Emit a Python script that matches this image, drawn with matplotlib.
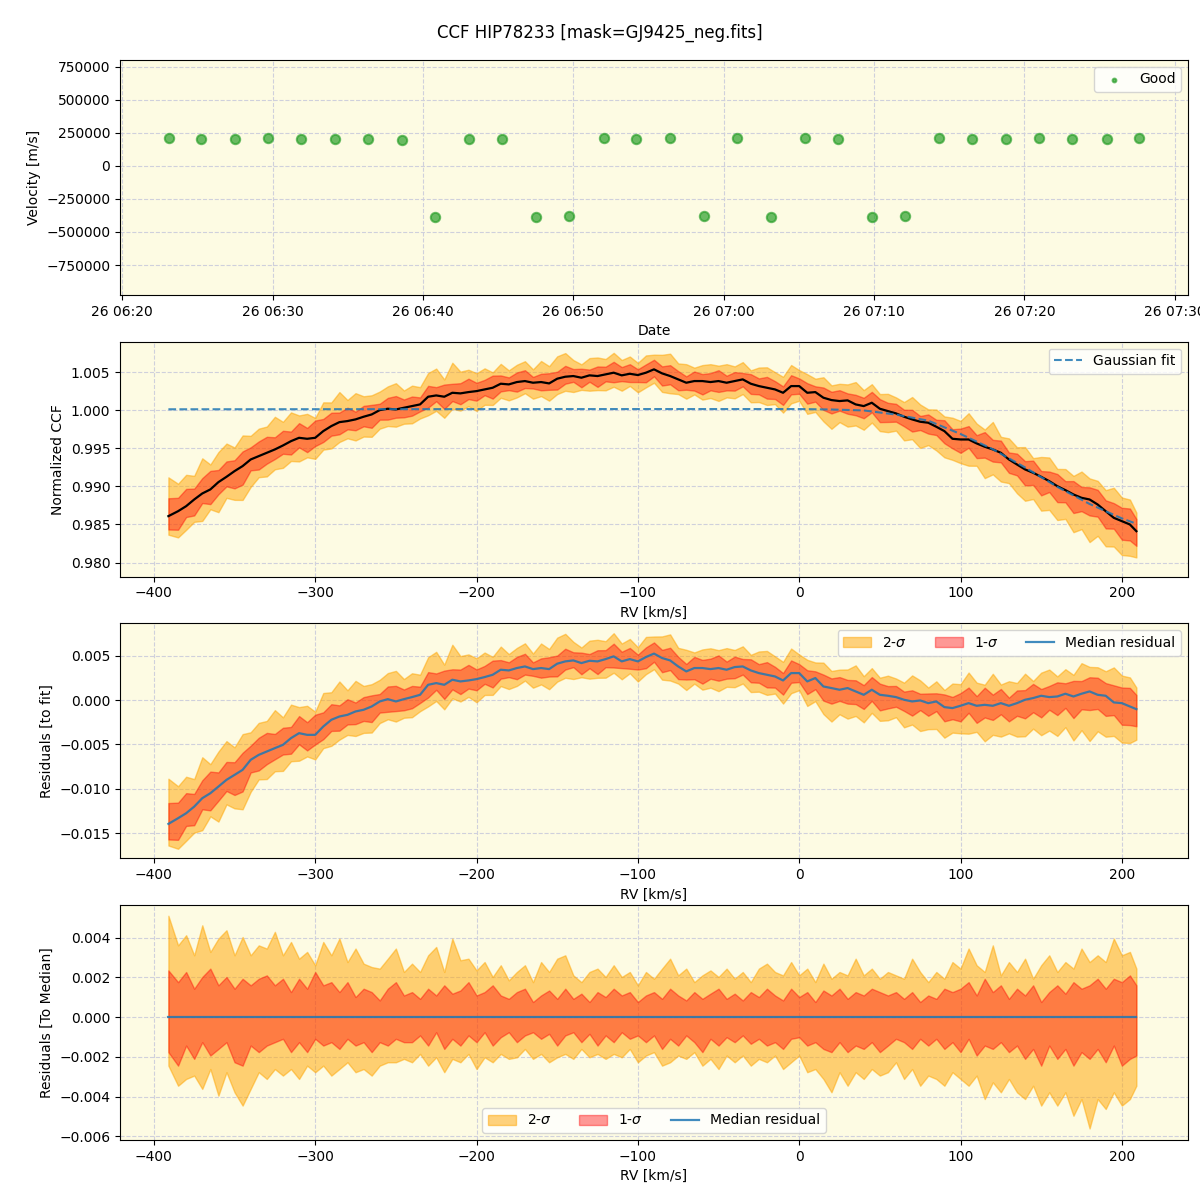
import matplotlib
matplotlib.use("Agg")
import matplotlib.pyplot as plt
import matplotlib.dates as mdates
import numpy as np
import pandas as pd

# ---- top panel: CCF velocity per exposure ----
obs_times = ["06:23:05", "06:25:16", "06:27:32", "06:29:43", "06:31:54", "06:34:10",
             "06:36:21", "06:38:37", "06:40:48", "06:43:04", "06:45:16", "06:47:31",
             "06:49:42", "06:52:01", "06:54:11", "06:56:27", "06:58:40", "07:00:55",
             "07:03:08", "07:05:25", "07:07:36", "07:09:52", "07:12:04", "07:14:20",
             "07:16:32", "07:18:48", "07:20:59", "07:23:11", "07:25:28", "07:27:39"]
obs_vel = [212000, 204000, 204000, 212000, 204000, 204000, 204000, 197000, -386000, 204000,
           204000, -386000, -379000, 212000, 204000, 212000, -379000, 212000, -386000, 212000,
           204000, -386000, -379000, 212000, 204000, 204000, 212000, 204000, 204000, 212000]

# ---- RV grid of the CCF ----
rv = [-391] + list(range(-385, 206, 5)) + [209]

ccf_mean = [0.98610, 0.98675, 0.98741, 0.98829, 0.98908, 0.98961, 0.99057, 0.99127, 0.99202, 0.99268,
            0.99355, 0.99399, 0.99443, 0.99487, 0.99539, 0.99596, 0.99640, 0.99627, 0.99640, 0.99728,
            0.99794, 0.99846, 0.99860, 0.99882, 0.99917, 0.99947, 1.00004, 1.00022, 1.00013, 1.00035,
            1.00057, 1.00079, 1.00180, 1.00197, 1.00180, 1.00232, 1.00224, 1.00241, 1.00254, 1.00276,
            1.00298, 1.00351, 1.00342, 1.00373, 1.00386, 1.00364, 1.00373, 1.00355, 1.00417, 1.00443,
            1.00452, 1.00430, 1.00461, 1.00452, 1.00474, 1.00496, 1.00461, 1.00482, 1.00465, 1.00496,
            1.00540, 1.00487, 1.00452, 1.00408, 1.00364, 1.00386, 1.00386, 1.00373, 1.00386, 1.00364,
            1.00386, 1.00408, 1.00351, 1.00320, 1.00298, 1.00276, 1.00232, 1.00320, 1.00320, 1.00232,
            1.00241, 1.00167, 1.00136, 1.00123, 1.00132, 1.00079, 1.00057, 1.00101, 1.00022, 0.99991,
            0.99961, 0.99917, 0.99882, 0.99851, 0.99838, 0.99785, 0.99728, 0.99627, 0.99618, 0.99618,
            0.99566, 0.99522, 0.99487, 0.99443, 0.99355, 0.99289, 0.99224, 0.99180, 0.99127, 0.99070,
            0.99004, 0.98952, 0.98895, 0.98851, 0.98829, 0.98763, 0.98675, 0.98588, 0.98544, 0.98500,
            0.98412]

resid_median = [-0.01397, -0.01333, -0.01277, -0.01202, -0.01107, -0.01051, -0.00976, -0.00900, -0.00844, -0.00787,
                -0.00674, -0.00618, -0.00580, -0.00542, -0.00505, -0.00429, -0.00373, -0.00392, -0.00392, -0.00298,
                -0.00222, -0.00185, -0.00166, -0.00128, -0.00109, -0.00072, -0.00015, 0.00011, -0.00015, 0.00011,
                0.00034, 0.00060, 0.00173, 0.00192, 0.00173, 0.00230, 0.00211, 0.00222, 0.00237, 0.00260,
                0.00286, 0.00343, 0.00335, 0.00362, 0.00380, 0.00350, 0.00362, 0.00350, 0.00411, 0.00437,
                0.00448, 0.00418, 0.00444, 0.00437, 0.00463, 0.00494, 0.00437, 0.00463, 0.00437, 0.00486,
                0.00525, 0.00475, 0.00448, 0.00380, 0.00324, 0.00362, 0.00362, 0.00350, 0.00362, 0.00343,
                0.00373, 0.00380, 0.00335, 0.00305, 0.00286, 0.00267, 0.00222, 0.00305, 0.00305, 0.00211,
                0.00249, 0.00154, 0.00136, 0.00117, 0.00136, 0.00098, 0.00060, 0.00117, 0.00060, 0.00049,
                0.00034, 0.00004, -0.00015, -0.00004, -0.00034, -0.00015, -0.00079, -0.00090, -0.00064, -0.00034,
                -0.00064, -0.00053, -0.00064, -0.00034, -0.00064, -0.00034, 0.00004, 0.00023, 0.00049, 0.00034,
                0.00041, 0.00072, 0.00041, 0.00072, 0.00098, 0.00060, 0.00049, -0.00026, -0.00034, -0.00072,
                -0.00102]

# band edges relative to the median
up2 = [0.00510, 0.00361, 0.00412, 0.00311, 0.00462, 0.00328, 0.00395, 0.00437, 0.00311, 0.00403,
       0.00311, 0.00361, 0.00345, 0.00429, 0.00311, 0.00378, 0.00294, 0.00328, 0.00261, 0.00378,
       0.00311, 0.00395, 0.00277, 0.00345, 0.00269, 0.00252, 0.00244, 0.00294, 0.00345, 0.00227,
       0.00269, 0.00227, 0.00311, 0.00353, 0.00227, 0.00395, 0.00286, 0.00294, 0.00235, 0.00277,
       0.00202, 0.00261, 0.00185, 0.00227, 0.00261, 0.00176, 0.00277, 0.00227, 0.00294, 0.00311,
       0.00210, 0.00176, 0.00227, 0.00244, 0.00202, 0.00261, 0.00202, 0.00227, 0.00160,
       0.00227, 0.00193, 0.00244, 0.00294, 0.00210, 0.00244, 0.00176, 0.00210, 0.00235, 0.00202,
       0.00244, 0.00193, 0.00227, 0.00176, 0.00244, 0.00269, 0.00227, 0.00210, 0.00277, 0.00210,
       0.00244, 0.00176, 0.00269, 0.00193, 0.00227, 0.00210, 0.00294, 0.00210, 0.00244, 0.00193,
       0.00227, 0.00210, 0.00193, 0.00294, 0.00227, 0.00176, 0.00227, 0.00193, 0.00277, 0.00244,
       0.00345, 0.00261, 0.00227, 0.00361, 0.00210, 0.00277, 0.00227, 0.00294, 0.00193, 0.00261,
       0.00311, 0.00227, 0.00277, 0.00244, 0.00345, 0.00277, 0.00311, 0.00277, 0.00395, 0.00311,
       0.00328, 0.00244]
up1 = [0.00235, 0.00176, 0.00227, 0.00143, 0.00202, 0.00244, 0.00160, 0.00202, 0.00143, 0.00193,
       0.00160, 0.00193, 0.00210, 0.00160, 0.00193, 0.00126, 0.00193, 0.00143, 0.00227, 0.00160,
       0.00176, 0.00126, 0.00176, 0.00101, 0.00143, 0.00126, 0.00084, 0.00143, 0.00176, 0.00109,
       0.00126, 0.00092, 0.00143, 0.00109, 0.00160, 0.00118, 0.00134, 0.00176, 0.00109, 0.00126,
       0.00160, 0.00109, 0.00092, 0.00126, 0.00143, 0.00076, 0.00109, 0.00134, 0.00092, 0.00143,
       0.00092, 0.00118, 0.00076, 0.00126, 0.00101, 0.00143, 0.00109, 0.00126, 0.00076,
       0.00109, 0.00126, 0.00092, 0.00143, 0.00109, 0.00084, 0.00126, 0.00092, 0.00118, 0.00143,
       0.00092, 0.00118, 0.00084, 0.00126, 0.00101, 0.00143, 0.00109, 0.00084, 0.00143, 0.00101,
       0.00126, 0.00076, 0.00134, 0.00109, 0.00143, 0.00092, 0.00126, 0.00109, 0.00143, 0.00126,
       0.00109, 0.00126, 0.00092, 0.00126, 0.00076, 0.00109, 0.00092, 0.00143, 0.00126, 0.00143,
       0.00176, 0.00109, 0.00193, 0.00126, 0.00160, 0.00092, 0.00143, 0.00109, 0.00160, 0.00076,
       0.00126, 0.00160, 0.00118, 0.00176, 0.00143, 0.00160, 0.00193, 0.00143, 0.00193, 0.00176,
       0.00210, 0.00160]
lo1 = [-0.00176, -0.00244, -0.00143, -0.00210, -0.00126, -0.00193, -0.00160, -0.00126, -0.00227, -0.00244,
       -0.00143, -0.00176, -0.00143, -0.00126, -0.00109, -0.00176, -0.00126, -0.00176, -0.00109, -0.00143,
       -0.00126, -0.00160, -0.00109, -0.00143, -0.00126, -0.00176, -0.00126, -0.00143, -0.00109, -0.00126,
       -0.00126, -0.00092, -0.00143, -0.00076, -0.00160, -0.00109, -0.00143, -0.00092, -0.00126, -0.00076,
       -0.00143, -0.00101, -0.00076, -0.00126, -0.00092, -0.00076, -0.00109, -0.00084, -0.00143, -0.00092,
       -0.00076, -0.00126, -0.00084, -0.00143, -0.00092, -0.00126, -0.00076, -0.00109, -0.00092,
       -0.00126, -0.00092, -0.00160, -0.00109, -0.00143, -0.00092, -0.00126, -0.00176, -0.00109, -0.00143,
       -0.00101, -0.00126, -0.00092, -0.00134, -0.00109, -0.00143, -0.00126, -0.00160, -0.00109, -0.00101,
       -0.00143, -0.00126, -0.00160, -0.00176, -0.00126, -0.00176, -0.00143, -0.00160, -0.00126, -0.00176,
       -0.00143, -0.00109, -0.00126, -0.00160, -0.00109, -0.00143, -0.00109, -0.00160, -0.00126, -0.00176,
       -0.00109, -0.00193, -0.00143, -0.00160, -0.00126, -0.00176, -0.00143, -0.00210, -0.00160, -0.00244,
       -0.00143, -0.00210, -0.00160, -0.00244, -0.00176, -0.00210, -0.00160, -0.00227, -0.00143, -0.00244,
       -0.00210, -0.00193]
lo2 = [-0.00244, -0.00345, -0.00311, -0.00294, -0.00361, -0.00261, -0.00395, -0.00277, -0.00378, -0.00445,
       -0.00361, -0.00277, -0.00311, -0.00261, -0.00294, -0.00261, -0.00311, -0.00244, -0.00277, -0.00244,
       -0.00294, -0.00261, -0.00227, -0.00277, -0.00261, -0.00294, -0.00244, -0.00227, -0.00227, -0.00210,
       -0.00227, -0.00185, -0.00244, -0.00202, -0.00277, -0.00210, -0.00227, -0.00185, -0.00261, -0.00202,
       -0.00227, -0.00185, -0.00210, -0.00202, -0.00160, -0.00210, -0.00185, -0.00227, -0.00202, -0.00185,
       -0.00210, -0.00160, -0.00202, -0.00185, -0.00210, -0.00185, -0.00202, -0.00160, -0.00227,
       -0.00193, -0.00176, -0.00244, -0.00227, -0.00193, -0.00210, -0.00176, -0.00244, -0.00210, -0.00261,
       -0.00193, -0.00227, -0.00193, -0.00244, -0.00210, -0.00227, -0.00193, -0.00261, -0.00227, -0.00193,
       -0.00277, -0.00261, -0.00311, -0.00378, -0.00277, -0.00345, -0.00277, -0.00311, -0.00261, -0.00294,
       -0.00277, -0.00227, -0.00311, -0.00261, -0.00345, -0.00294, -0.00311, -0.00345, -0.00277, -0.00311,
       -0.00345, -0.00294, -0.00412, -0.00328, -0.00378, -0.00311, -0.00378, -0.00412, -0.00345, -0.00445,
       -0.00378, -0.00445, -0.00378, -0.00496, -0.00412, -0.00560, -0.00412, -0.00462, -0.00378, -0.00445,
       -0.00412, -0.00345]

# Gaussian fit curve
fit_rv = [-391, -300, -200, -100, 0, 20, 40, 60, 80, 100, 120, 140, 160, 180, 200, 209]
fit_ccf = [1.00015, 1.00016, 1.00017, 1.00018, 1.00018, 1.00012, 1.00000, 0.99945, 0.99865,
           0.99690, 0.99490, 0.99250, 0.98995, 0.98770, 0.98580, 0.98510]

BG = "#fdfbe3"
GRID = dict(color="#cfd0dc", linestyle="--", linewidth=0.8)


def draw_bands(ax, center, with_labels):
    c = np.array(center)
    ax.fill_between(rv, c + np.array(lo2), c + np.array(up2), color="orange", alpha=0.5,
                    lw=1, label="2-$\\sigma$" if with_labels else None)
    ax.fill_between(rv, c + np.array(lo1), c + np.array(up1), color="red", alpha=0.4,
                    lw=1, label="1-$\\sigma$" if with_labels else None)


fig, axes = plt.subplots(4, 1, figsize=(12, 12), dpi=100)
fig.subplots_adjust(left=0.1, right=0.99, top=0.95, bottom=0.05, hspace=0.2)
fig.suptitle("CCF HIP78233 [mask=GJ9425_neg.fits]", fontsize=12, y=0.98)

# panel 1
ax = axes[0]
t = pd.to_datetime(["2024-01-26 " + s for s in obs_times])
ax.scatter(t, obs_vel, s=45, color="#2ca02c", alpha=0.7, edgecolor="#2ca02c",
           linewidths=1.5, label="Good", zorder=3)
ax.xaxis.set_major_locator(mdates.MinuteLocator(byminute=[0, 10, 20, 30, 40, 50]))
ax.xaxis.set_major_formatter(mdates.DateFormatter("%d %H:%M"))
ax.set_ylim(-975000, 800000)
ax.set_xlabel("Date")
ax.set_ylabel("Velocity [m/s]")
ax.legend(loc="upper right", markerscale=0.4)

# panel 2
ax = axes[1]
draw_bands(ax, ccf_mean, False)
ax.plot(rv, ccf_mean, color="black", lw=1.6)
ax.plot(fit_rv, fit_ccf, "--", color="tab:blue", alpha=0.85, lw=1.5, label="Gaussian fit")
ax.set_ylim(0.97816, 1.00903)
ax.set_xlabel("RV [km/s]")
ax.set_ylabel("Normalized CCF")
ax.legend(loc="upper right")

# panel 3
ax = axes[2]
draw_bands(ax, resid_median, True)
ax.plot(rv, resid_median, color="tab:blue", alpha=0.85, lw=1.6, label="Median residual")
ax.set_ylim(-0.01785, 0.00865)
ax.set_xlabel("RV [km/s]")
ax.set_ylabel("Residuals [to fit]")
ax.legend(loc="upper right", ncol=3)

# panel 4
ax = axes[3]
draw_bands(ax, np.zeros(len(rv)), True)
ax.plot(rv, np.zeros(len(rv)), color="tab:blue", alpha=0.85, lw=1.6, label="Median residual")
ax.set_ylim(-0.00618, 0.00563)
ax.set_xlabel("RV [km/s]")
ax.set_ylabel("Residuals [To Median]")
ax.legend(loc="lower center", ncol=3)

for ax in axes:
    ax.set_facecolor(BG)
    ax.grid(True, **GRID)
    ax.set_axisbelow(True)
for ax in axes[1:]:
    ax.set_xlim(-421, 241)

fig.savefig("out.png", dpi=100)
